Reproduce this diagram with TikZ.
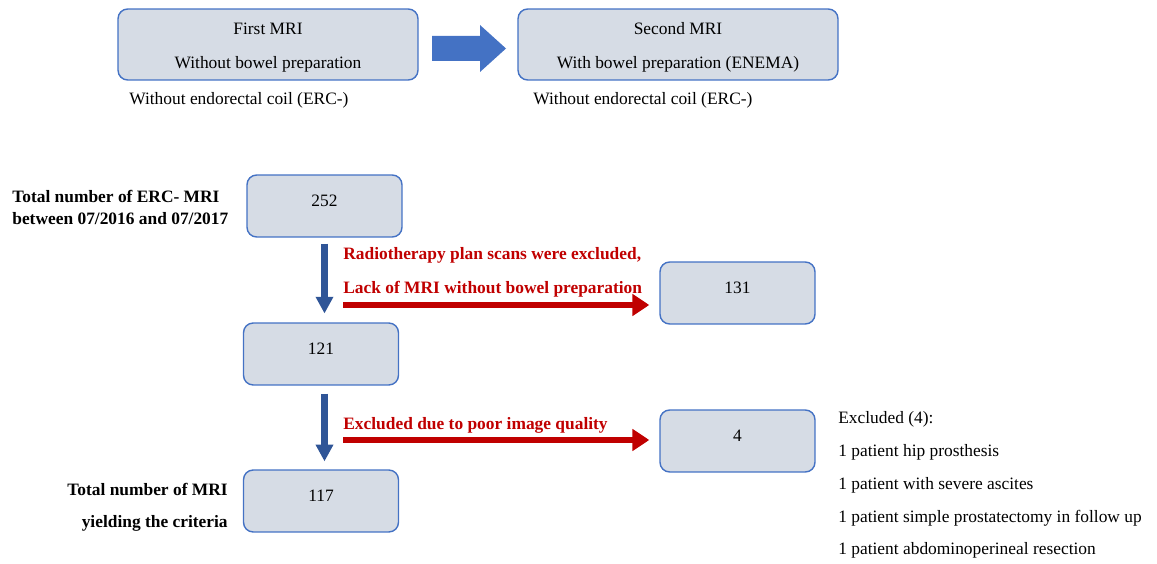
\documentclass[tikz,border=0pt]{standalone}
\usepackage{fontspec}
\setmainfont{Liberation Serif}
\usetikzlibrary{arrows.meta,calc}
\definecolor{boxfill}{RGB}{214,220,229}
\definecolor{boxline}{RGB}{68,114,196}
\definecolor{flowblue}{RGB}{47,85,151}
\definecolor{stepblue}{RGB}{68,114,196}
\definecolor{exred}{RGB}{192,0,0}

\begin{document}
\begin{tikzpicture}[x=0.02cm, y=-0.02cm,
  font=\fontsize{9.9}{12}\selectfont,
  mribox/.style={draw=boxline, fill=boxfill, line width=0.8pt,
    rounded corners=5.5pt, align=center, minimum height=1.42cm,
    font=\fontsize{9.9}{19.3}\selectfont},
  countbox/.style={draw=boxline, fill=boxfill, line width=0.8pt,
    rounded corners=5.5pt, minimum width=3.1cm, minimum height=1.24cm,
    text height=6.6pt, text depth=6pt},
  downarrow/.style={draw=flowblue, line width=3.6pt,
    -{Triangle[length=9.5pt,width=9.5pt]}},
  exarrow/.style={draw=exred, line width=3.2pt,
    -{Triangle[length=9.6pt,width=12pt]}},
  redlabel/.style={text=exred, font=\fontsize{9.9}{19.3}\selectfont\bfseries,
    align=left, anchor=west, inner sep=0pt},
  note/.style={anchor=west, inner sep=0pt}]
  \useasboundingbox (0,0) rectangle (1157,564);

  %% Top row: the two MRI protocols
  \node[mribox, minimum width=6cm] (first) at (268,44.5)
    {\rule{0pt}{10pt}First MRI\\Without bowel preparation};
  \node[mribox, minimum width=6.4cm] (second) at (678,44.5)
    {\rule{0pt}{10pt}Second MRI\\With bowel preparation (ENEMA)};
  \fill[stepblue] (432,36) -- (480,36) -- (480,25) -- (506,48.5)
    -- (480,72) -- (480,61) -- (432,61) -- cycle;
  \node[note] (coilA) at (129,100) {Without endorectal coil (ERC-)};
  \node[note] (coilB) at (533,100) {Without endorectal coil (ERC-)};

  %% Flow of included scans
  \node[countbox] (n252) at (324.5,206) {252};
  \node[countbox] (n121) at (321,354) {121};
  \node[countbox] (n117) at (321,501) {117};
  \node[note, align=left, font=\fontsize{9.9}{12.5}\selectfont\bfseries]
    (total) at (12,207)
    {Total number of ERC- MRI\\between 07/2016 and 07/2017};
  \node[anchor=east, inner sep=0pt, align=right,
    font=\fontsize{9.9}{18.1}\selectfont\bfseries]
    (final) at (228,507) {Total number of MRI\\yielding the criteria};

  \draw[downarrow, shorten <=3.4pt, shorten >=5pt]
    (n252.south) -- (n252.south |- n121.north);
  \draw[downarrow, shorten <=4.5pt, shorten >=4.5pt]
    (n252.south |- n121.south) -- (n252.south |- n117.north);

  %% Exclusions
  \node[countbox] (n131) at (737.5,293) {131};
  \node[countbox] (n4) at (737.5,441) {4};
  \coordinate (r1) at (343,305);
  \coordinate (r2) at (343,440);
  \draw[exarrow, shorten >=5.7pt] (r1) -- (r1 -| n131.west);
  \draw[exarrow, shorten >=5.7pt] (r2) -- (r2 -| n4.west);
  \node[redlabel] (why1) at (343,272)
    {Radiotherapy plan scans were excluded,\\Lack of MRI without bowel preparation};
  \node[redlabel] (why2) at (343,425) {Excluded due to poor image quality};
  \node[note, align=left, font=\fontsize{9.9}{18.7}\selectfont] (list) at (838,485)
    {Excluded (4):\\1 patient hip prosthesis\\1 patient with severe ascites\\
     1 patient simple prostatectomy in follow up\\1 patient abdominoperineal resection};
\end{tikzpicture}
\end{document}
